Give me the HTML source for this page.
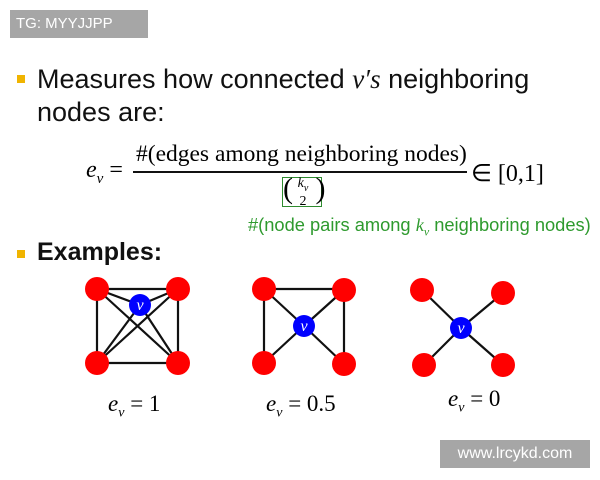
<!DOCTYPE html>
<html><head><style>
body{margin:0;width:600px;height:480px;background:#fff;position:relative;overflow:hidden;font-family:"Liberation Sans",sans-serif}
.a{position:absolute;white-space:nowrap}
.ser{font-family:"Liberation Serif",serif}
.bul{position:absolute;width:8px;height:8px;background:#f0b400}
</style></head><body>
<div class="a" style="left:10px;top:10px;width:138px;height:28px;background:#a6a6a6;color:#fff;font-size:15px;line-height:28px;text-indent:6px">TG: MYYJJPP</div>
<div class="bul" style="left:17px;top:75px"></div>
<div class="a" style="left:37px;top:63px;font-size:27px;line-height:33px;color:#111">Measures how connected <i class="ser">v′s</i> neighboring<br>nodes are:</div>
<div class="a ser" style="left:86px;top:157px;font-size:24px"><i>e<sub style="font-size:15px">v</sub></i> =</div>
<div class="a ser" style="left:136px;top:141px;font-size:23.5px">#(edges among neighboring nodes)</div>
<div class="a" style="left:133px;top:171px;width:334px;height:2px;background:#111"></div>
<div class="a" style="left:282px;top:177px;width:38px;height:28px;border:1px solid #2e8b2e"></div>
<div class="a ser" style="left:283px;top:173px;font-size:30px;line-height:32px">(&nbsp;&nbsp;&nbsp;)</div>
<div class="a ser" style="left:294px;top:177px;font-size:14px;line-height:13px;text-align:center;width:18px"><i>k<sub style="font-size:10px">v</sub></i><br>2</div>
<div class="a ser" style="left:471px;top:159px;font-size:24px">∈ [0,1]</div>
<div class="a" style="left:248px;top:214px;font-size:18.3px;color:#2e9a2e">#(node pairs among <i class="ser">k<sub style="font-size:12px">v</sub></i> neighboring nodes)</div>
<div class="bul" style="left:17px;top:250px"></div>
<div class="a" style="left:37px;top:238px;font-size:25px;font-weight:bold;color:#111">Examples:</div>
<svg class="a" style="left:0;top:0" width="600" height="480">
<g stroke="#111" stroke-width="2.2">
<path d="M97 289H178M97 363H178M97 289V363M178 289V363M97 289L178 363M178 289L97 363M97 289L140 305M178 289L140 305M97 363L140 305M178 363L140 305"/>
<path d="M264 289H344M264 289V363M344 290V364M264 289L304 326M344 290L304 326M264 363L304 326M344 364L304 326"/>
<path d="M422 290L461 328M503 293L461 328M424 365L461 328M503 365L461 328"/>
</g>
<g fill="#f00">
<circle cx="97" cy="289" r="12"/><circle cx="178" cy="289" r="12"/><circle cx="97" cy="363" r="12"/><circle cx="178" cy="363" r="12"/>
<circle cx="264" cy="289" r="12"/><circle cx="344" cy="290" r="12"/><circle cx="264" cy="363" r="12"/><circle cx="344" cy="364" r="12"/>
<circle cx="422" cy="290" r="12"/><circle cx="503" cy="293" r="12"/><circle cx="424" cy="365" r="12"/><circle cx="503" cy="365" r="12"/>
</g>
<g fill="#00f"><circle cx="140" cy="305" r="11"/><circle cx="304" cy="326" r="11"/><circle cx="461" cy="328" r="11"/></g>
<g fill="#fff" font-family="Liberation Serif" font-style="italic" font-size="16" text-anchor="middle">
<text x="140" y="310">v</text><text x="304" y="331">v</text><text x="461" y="333">v</text></g>
</svg>
<div class="a ser" style="left:108px;top:391px;font-size:23px"><i>e<sub style="font-size:14px">v</sub></i> = 1</div>
<div class="a ser" style="left:266px;top:391px;font-size:23px"><i>e<sub style="font-size:14px">v</sub></i> = 0.5</div>
<div class="a ser" style="left:448px;top:386px;font-size:23px"><i>e<sub style="font-size:14px">v</sub></i> = 0</div>
<div class="a" style="left:440px;top:440px;width:150px;height:28px;background:#a6a6a6;color:#fff;font-size:16px;line-height:28px;text-align:center">www.lrcykd.com</div>
</body></html>
